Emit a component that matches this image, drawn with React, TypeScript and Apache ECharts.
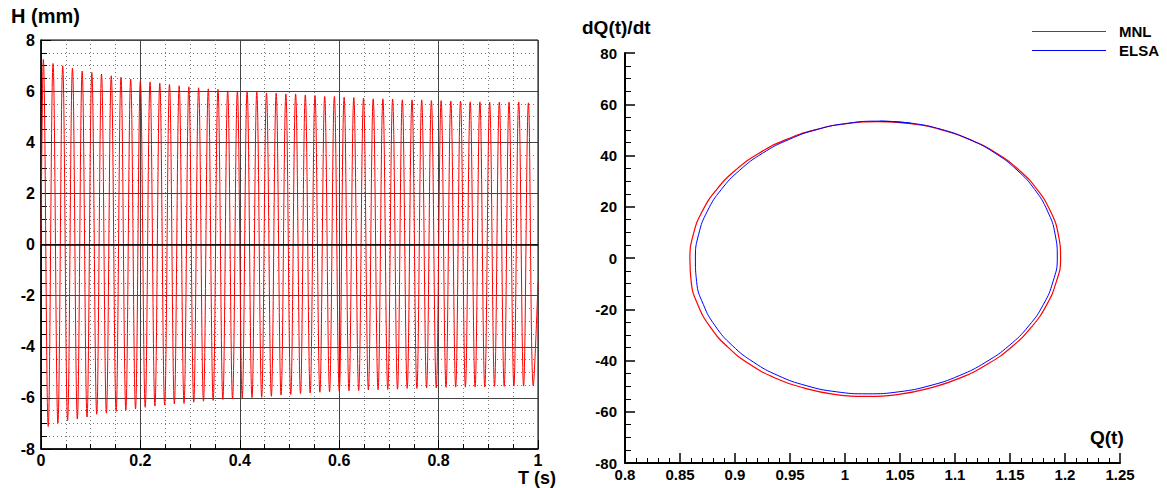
import { useEffect, useRef } from "react";
import * as echarts from "echarts";

// ---- Left chart: H (mm) vs T (s): read maxima / minima of the oscillation ----
const tMax = [
  0.0047, 0.0242, 0.0437, 0.0633, 0.0828, 0.1023, 0.1218, 0.1414, 0.1609, 0.1804,
  0.1999, 0.2194, 0.239, 0.2585, 0.278, 0.2975, 0.3171, 0.3366, 0.3561, 0.3756,
  0.3951, 0.4147, 0.4342, 0.4537, 0.4732, 0.4927, 0.5123, 0.5318, 0.5513, 0.5708,
  0.5903, 0.6099, 0.6294, 0.6489, 0.6684, 0.6879, 0.7075, 0.727, 0.7465, 0.766,
  0.7855, 0.8051, 0.8246, 0.8441, 0.8636, 0.8831, 0.9027, 0.9222, 0.9417, 0.9612,
  0.9807,
];
const hMax = [
  7.24, 7.08, 6.99, 6.9, 6.78, 6.73, 6.67, 6.6, 6.54, 6.47,
  6.4, 6.36, 6.31, 6.26, 6.21, 6.17, 6.13, 6.09, 6.07, 6.01,
  5.99, 5.99, 5.96, 5.93, 5.92, 5.89, 5.89, 5.85, 5.83, 5.79,
  5.79, 5.76, 5.75, 5.73, 5.7, 5.7, 5.69, 5.66, 5.66, 5.66,
  5.63, 5.63, 5.61, 5.61, 5.58, 5.58, 5.57, 5.57, 5.57, 5.57,
  5.54,
];
const tMin = [
  0.0145, 0.034, 0.0535, 0.0731, 0.0926, 0.1121, 0.1316, 0.1512, 0.1707, 0.1902,
  0.2097, 0.2292, 0.2488, 0.2683, 0.2878, 0.3073, 0.3269, 0.3464, 0.3659, 0.3854,
  0.4049, 0.4245, 0.444, 0.4635, 0.483, 0.5025, 0.5221, 0.5416, 0.5611, 0.5806,
  0.6001, 0.6197, 0.6392, 0.6587, 0.6782, 0.6977, 0.7173, 0.7368, 0.7563, 0.7758,
  0.7953, 0.8149, 0.8344, 0.8539, 0.8734, 0.8929, 0.9125, 0.932, 0.9515, 0.971,
  0.9905,
];
const hMin = [
  -7.12, -6.99, -6.89, -6.83, -6.75, -6.64, -6.6, -6.53, -6.48, -6.43,
  -6.37, -6.32, -6.28, -6.24, -6.22, -6.17, -6.13, -6.1, -6.06, -6.04,
  -6.0, -5.99, -5.98, -5.94, -5.89, -5.87, -5.83, -5.81, -5.78, -5.76,
  -5.74, -5.72, -5.71, -5.69, -5.68, -5.67, -5.66, -5.63, -5.63, -5.61,
  -5.61, -5.59, -5.58, -5.58, -5.57, -5.57, -5.55, -5.55, -5.54, -5.54,
  -5.53,
];
const hStart = [0, 0];
const hEnd = [1.0, -1.5];

// ---- Right chart: phase portrait dQ/dt vs Q (closed orbits, read clockwise from top) ----
const mnlQ = [
  1.0305, 1.0598, 1.0879, 1.1144, 1.1381, 1.1585, 1.1749, 1.1868, 1.1939,
  1.196, 1.192, 1.1831, 1.1694, 1.1515, 1.1297, 1.1049, 1.0776, 1.0489,
  1.0195, 0.9903, 0.9624, 0.9363, 0.9131, 0.8933, 0.8776, 0.8665, 0.8602,
  0.859, 0.8621, 0.8702, 0.8831, 0.9003, 0.9215, 0.9458, 0.9727, 1.0012,
];
const mnlDQ = [
  53.2, 52.4, 50.0, 46.1, 40.8, 34.2, 26.6, 18.2, 9.2,
  -0.5, -9.4, -18.5, -27.0, -34.7, -41.4, -46.8, -50.7, -53.2,
  -54.0, -53.2, -50.7, -46.8, -41.4, -34.7, -27.0, -18.5, -9.4,
  -0.5, 9.2, 18.2, 26.6, 34.2, 40.8, 46.1, 50.0, 52.4,
];
const elsaQ = [
  1.0315, 1.0601, 1.0876, 1.1134, 1.1365, 1.1564, 1.1725, 1.1841, 1.191,
  1.193, 1.1891, 1.1804, 1.167, 1.1494, 1.1281, 1.1039, 1.0773, 1.0492,
  1.0205, 0.992, 0.9647, 0.9393, 0.9167, 0.8974, 0.882, 0.8712, 0.8651,
  0.864, 0.867, 0.8749, 0.8875, 0.9044, 0.9251, 0.9488, 0.975, 1.0029,
];
const elsaDQ = [
  53.4, 52.6, 50.2, 46.2, 40.9, 34.3, 26.7, 18.3, 9.3,
  0, -9.2, -18.1, -26.5, -34.1, -40.6, -45.9, -49.8, -52.2,
  -53.0, -52.2, -49.8, -45.9, -40.6, -34.1, -26.5, -18.1, -9.2,
  0, 9.3, 18.3, 26.7, 34.3, 40.9, 46.2, 50.2, 52.6,
];
const legendNames = ["MNL", "ELSA"];
const titles = { leftY: "H (mm)", leftX: "T (s)", rightY: "dQ(t)/dt", rightX: "Q(t)" };

const FONT = '"Liberation Sans", Arial, Helvetica, sans-serif';

function buildH(): number[][] {
  const out: number[][] = [hStart];
  for (let i = 0; i < tMax.length; i++) {
    out.push([tMax[i], hMax[i]]);
    out.push([tMin[i], hMin[i]]);
  }
  out.push(hEnd);
  return out;
}
function closed(xs: number[], ys: number[]): number[][] {
  const out = xs.map((x, i) => [x, ys[i]]);
  out.push([xs[0], ys[0]]);
  out.push([xs[1], ys[1]]);
  return out;
}

export default function App() {
  const ref = useRef<HTMLDivElement>(null);
  useEffect(() => {
    if (!ref.current) return;
    const chart = echarts.init(ref.current, undefined, { renderer: "svg" });
    const label = (size: number, margin: number) => ({
      color: "#000",
      fontFamily: FONT,
      fontWeight: "bold" as const,
      fontSize: size,
      margin,
    });
    chart.setOption({
      animation: false,
      backgroundColor: "#fff",
      grid: [
        { left: 41, top: 40, width: 497, height: 409, show: true, borderColor: "#000", borderWidth: 1, backgroundColor: "transparent" },
        { left: 625, top: 53, width: 495, height: 410 },
      ],
      xAxis: [
        {
          gridIndex: 0, type: "value", min: 0, max: 1, interval: 0.2,
          axisLine: { show: true, onZero: false, lineStyle: { color: "#000", width: 1.5 } },
          axisTick: { show: true, inside: true, length: 9, lineStyle: { color: "#000" } },
          minorTick: { show: true, splitNumber: 4, length: 5, lineStyle: { color: "#000" } },
          axisLabel: label(16, 3),
          splitLine: { show: true, lineStyle: { color: "#444", width: 1 } },
          minorSplitLine: { show: true, lineStyle: { color: "#777", width: 1, type: [1, 3] } },
        },
        {
          gridIndex: 1, type: "value", min: 0.8, max: 1.25, interval: 0.05,
          axisLine: { show: true, onZero: false, lineStyle: { color: "#000", width: 2 } },
          axisTick: { show: true, inside: true, length: 10, lineStyle: { color: "#000", width: 1.5 } },
          minorTick: { show: true, splitNumber: 5, length: 5, lineStyle: { color: "#000", width: 1 } },
          axisLabel: label(15, 4),
          splitLine: { show: false },
        },
      ],
      yAxis: [
        {
          gridIndex: 0, type: "value", min: -8, max: 8, interval: 2,
          axisLine: { show: true, onZero: false, lineStyle: { color: "#000", width: 1.5 } },
          axisTick: { show: true, inside: true, length: 10, lineStyle: { color: "#000" } },
          minorTick: { show: true, splitNumber: 4, length: 6, lineStyle: { color: "#000" } },
          axisLabel: label(16, 6),
          splitLine: { show: true, lineStyle: { color: "#444", width: 1 } },
          minorSplitLine: { show: true, lineStyle: { color: "#777", width: 1, type: [1, 3] } },
        },
        {
          gridIndex: 1, type: "value", min: -80, max: 80, interval: 20,
          axisLine: { show: true, onZero: false, lineStyle: { color: "#000", width: 2 } },
          axisTick: { show: true, inside: true, length: 10, lineStyle: { color: "#000", width: 1.5 } },
          minorTick: { show: true, splitNumber: 4, length: 6, lineStyle: { color: "#000", width: 1 } },
          axisLabel: label(15, 8),
          splitLine: { show: false },
        },
      ],
      series: [
        {
          type: "line", xAxisIndex: 0, yAxisIndex: 0, data: buildH(),
          symbol: "none", smooth: 0.4, lineStyle: { color: "#ff0000", width: 1 },
          markLine: {
            silent: true, symbol: "none", label: { show: false },
            lineStyle: { color: "#000", width: 1.5, type: "solid" },
            data: [{ yAxis: 0 }],
          },
          z: 3,
        },
        {
          name: legendNames[0], type: "line", xAxisIndex: 1, yAxisIndex: 1,
          data: closed(mnlQ, mnlDQ), symbol: "none", smooth: 0.5,
          lineStyle: { color: "#ff0000", width: 1.2 },
        },
        {
          name: legendNames[1], type: "line", xAxisIndex: 1, yAxisIndex: 1,
          data: closed(elsaQ, elsaDQ), symbol: "none", smooth: 0.5,
          lineStyle: { color: "#0000ff", width: 1 },
        },
      ],
      graphic: [
        { type: "text", x: 11, y: 16, style: { text: titles.leftY, fill: "#000", font: `bold 20px ${FONT}`, align: "left", verticalAlign: "middle" } },
        { type: "text", x: 518, y: 478, style: { text: titles.leftX, fill: "#000", font: `bold 18px ${FONT}`, align: "left", verticalAlign: "middle" } },
        { type: "text", x: 582, y: 27, style: { text: titles.rightY, fill: "#000", font: `bold 19px ${FONT}`, align: "left", verticalAlign: "middle" } },
        { type: "text", x: 1090, y: 437, style: { text: titles.rightX, fill: "#000", font: `bold 19px ${FONT}`, align: "left", verticalAlign: "middle" } },
        { type: "line", shape: { x1: 1032, y1: 31.5, x2: 1106, y2: 31.5 }, style: { stroke: "#ff0000", lineWidth: 1 } },
        { type: "line", shape: { x1: 1032, y1: 50.5, x2: 1106, y2: 50.5 }, style: { stroke: "#0000ff", lineWidth: 1 } },
        { type: "text", x: 1119, y: 31.5, style: { text: legendNames[0], fill: "#000", font: `bold 15px ${FONT}`, align: "left", verticalAlign: "middle" } },
        { type: "text", x: 1119, y: 50.5, style: { text: legendNames[1], fill: "#000", font: `bold 15px ${FONT}`, align: "left", verticalAlign: "middle" } },
      ],
    });
    return () => chart.dispose();
  }, []);
  return (
    <div
      ref={ref}
      style={{ position: "fixed", left: 0, top: 0, width: 1167, height: 488, background: "#fff" }}
    />
  );
}
